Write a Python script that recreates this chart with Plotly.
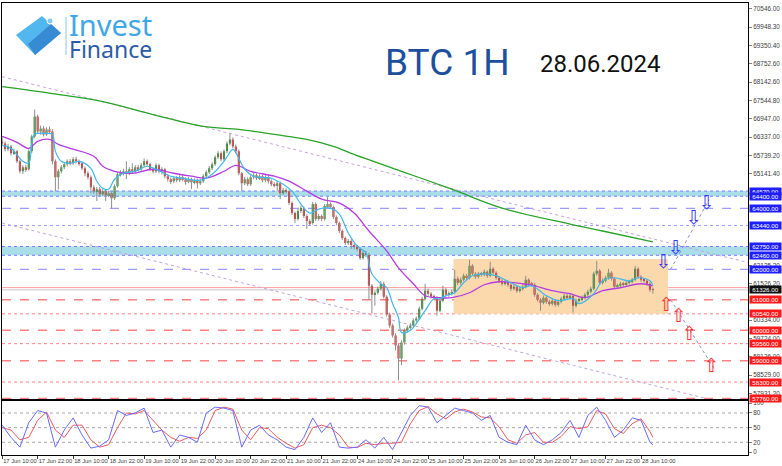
import plotly.graph_objects as go

W, H = 782, 466
ML, MR, MT, MB = 1, 34, 1, 11

# one bar per hour, weekend removed; bar 0 = 17 Jun 10:00
time_ticks = [0, 12, 24, 36, 48, 60, 72, 84, 96, 108, 120, 132, 144, 156, 168, 180, 192, 204, 216]
time_labels = ["17 Jun 10:00", "17 Jun 22:00", "18 Jun 10:00", "18 Jun 22:00", "19 Jun 10:00",
               "19 Jun 22:00", "20 Jun 10:00", "20 Jun 22:00", "21 Jun 10:00", "21 Jun 22:00",
               "24 Jun 10:00", "24 Jun 22:00", "25 Jun 10:00", "25 Jun 22:00", "26 Jun 10:00",
               "26 Jun 22:00", "27 Jun 10:00", "27 Jun 22:00", "28 Jun 10:00"]

opens = [66200, 66134, 65938, 66036, 65808, 65873, 65546, 65219, 65350, 65285,
         65873, 66363, 67017, 66527, 66625, 66429, 66592, 66527, 65546, 65023,
         65219, 65350, 65448, 65546, 65481, 65612, 65546, 65481, 65317, 65154,
         65023, 64697, 64566, 64631, 64468, 64566, 64435, 64500, 64337, 64729,
         65121, 65154, 65219, 65154, 65285, 65219, 65350, 65285, 65415, 65546,
         65448, 65285, 65219, 65415, 65219, 65285, 65056, 64958, 64893, 64991,
         64925, 65023, 64958, 64893, 64958, 64860, 64925, 64827, 64893, 65056,
         65187, 65317, 65448, 65677, 65808, 65612, 65873, 66134, 66265, 66036,
         65873, 65154, 64827, 64958, 64795, 65023, 65089, 64991, 65056, 64925,
         65023, 64893, 64795, 64762, 64827, 64500, 64599, 64566, 64174, 63847,
         63651, 63912, 64010, 63749, 63585, 63520, 64141, 63651, 63749, 63651,
         64076, 64141, 64043, 63716, 63520, 63259, 63030, 62866, 62932, 62801,
         62736, 62670, 62376, 62540, 62474, 61461, 61167, 61232, 61363, 61527,
         61102, 60514, 60154, 59827, 59500, 59076, 59598, 59991, 60089, 60154,
         60317, 60383, 60710, 61036, 61298, 61200, 61102, 61069, 60644, 60971,
         61330, 61167, 61200, 61265, 61690, 61559, 61657, 61788, 61723, 62115,
         61853, 61755, 61853, 61821, 61919, 61788, 62017, 61886, 61723, 61625,
         61527, 61592, 61494, 61363, 61429, 61298, 61363, 61429, 61657, 61527,
         61494, 61167, 61004, 60906, 61069, 60938, 60873, 60971, 60840, 60938,
         61036, 61134, 61069, 61134, 60808, 60971, 61004, 61069, 61167, 61265,
         61363, 61853, 61951, 61559, 61625, 61723, 61886, 61690, 61429, 61461,
         61527, 61494, 61559, 61592, 61657, 62017, 61755, 61657, 61625, 61527,
         61330]
highs = [66330, 66200, 66120, 66090, 65960, 65920, 65600, 65420, 65430, 65940,
         66420, 67245, 67080, 66720, 66700, 66660, 66690, 66600, 65610, 65290,
         65420, 65520, 65610, 65620, 65680, 65700, 65600, 65530, 65380, 65220,
         65080, 64760, 64700, 64700, 64640, 64630, 64580, 64560, 64790, 65190,
         65250, 65300, 65546, 65350, 65480, 65420, 65430, 65490, 65640, 65610,
         65500, 65340, 65480, 65470, 65350, 65330, 65120, 65020, 65060, 65060,
         65090, 65090, 65020, 65030, 65010, 64990, 64980, 64960, 65120, 65250,
         65390, 65510, 65740, 65880, 65870, 65940, 66200, 66461, 66330, 66100,
         65930, 65200, 65030, 65020, 65090, 65160, 65150, 65120, 65110, 65090,
         65080, 64950, 64860, 64900, 64880, 64670, 64660, 64620, 64230, 63900,
         63980, 64090, 64060, 63800, 63640, 64210, 64200, 63820, 63800, 64140,
         64370, 64200, 64090, 63770, 63570, 63310, 63080, 63000, 62990, 62860,
         62800, 62720, 62600, 62610, 62540, 61520, 61300, 61430, 61620, 61590,
         61150, 60580, 60220, 59900, 59560, 59670, 60060, 60160, 60230, 60390,
         60450, 60780, 61100, 61527, 61370, 61260, 61170, 61120, 61040, 61461,
         61390, 61280, 61340, 61980, 61760, 61730, 61860, 61850, 62310, 62170,
         61910, 61920, 61920, 61990, 61970, 62245, 62070, 61940, 61780, 61680,
         61660, 61650, 61550, 61500, 61480, 61430, 61500, 61788, 61710, 61590,
         61550, 61220, 61060, 61140, 61120, 61000, 61040, 61020, 61010, 61100,
         61200, 61190, 61210, 61190, 61040, 61080, 61140, 61230, 61330, 61430,
         61920, 62278, 62010, 61700, 61790, 62017, 61940, 61740, 61530, 61590,
         61580, 61630, 61660, 61720, 62115, 62070, 61810, 61720, 61680, 61580,
         61400]
lows = [66070, 65870, 65880, 65740, 65760, 65480, 65150, 65130, 65200, 65240,
        65820, 66300, 66460, 66420, 66360, 66380, 66450, 65450, 64560, 64630,
        65150, 65290, 65380, 65420, 65430, 65480, 65400, 65250, 65060, 64950,
        64500, 64480, 64240, 64400, 64400, 64240, 64370, 64010, 64280, 64680,
        65050, 65080, 64960, 65090, 65150, 65160, 65220, 65230, 65360, 65390,
        65220, 65150, 65160, 65150, 65110, 64990, 64880, 64800, 64830, 64860,
        64870, 64890, 64780, 64830, 64630, 64790, 64660, 64770, 64840, 65000,
        65130, 65260, 65400, 65620, 65550, 65560, 65810, 66070, 65970, 65800,
        65090, 64566, 64760, 64730, 64740, 64960, 64930, 64930, 64860, 64860,
        64820, 64730, 64690, 64566, 64304, 64440, 64490, 64110, 63780, 63520,
        63600, 63850, 63680, 63324, 63440, 63470, 63590, 63600, 63580, 63600,
        64010, 63980, 63650, 63450, 63190, 62960, 62800, 62800, 62670, 62660,
        62600, 62310, 62320, 62400, 61000, 60546, 60808, 61170, 61300, 61040,
        60450, 60080, 59760, 59337, 58357, 58850, 59530, 59930, 60020, 60090,
        60250, 60330, 60650, 60980, 61130, 61040, 60990, 60480, 60590, 60920,
        61100, 61100, 61140, 61210, 61490, 61500, 61600, 61650, 61670, 61790,
        61690, 61700, 61760, 61770, 61720, 61740, 61820, 61660, 61560, 61460,
        61470, 61430, 61290, 61310, 61230, 61240, 61300, 61380, 61460, 61430,
        61100, 60940, 60644, 60850, 60870, 60800, 60810, 60770, 60780, 60880,
        60980, 61000, 61010, 60579, 60750, 60910, 60950, 61010, 61110, 61210,
        61310, 61790, 61490, 61500, 61570, 61660, 61630, 61360, 61370, 61400,
        61430, 61440, 61500, 61540, 61610, 61690, 61590, 61560, 61460, 61260,
        61200]
closes = [66134, 65938, 66036, 65808, 65873, 65546, 65219, 65350, 65285, 65873,
          66363, 67017, 66527, 66625, 66429, 66592, 66527, 65546, 65023, 65219,
          65350, 65448, 65546, 65481, 65612, 65546, 65481, 65317, 65154, 65023,
          64697, 64566, 64631, 64468, 64566, 64435, 64500, 64337, 64729, 65121,
          65154, 65219, 65154, 65285, 65219, 65350, 65285, 65415, 65546, 65448,
          65285, 65219, 65415, 65219, 65285, 65056, 64958, 64893, 64991, 64925,
          65023, 64958, 64893, 64958, 64860, 64925, 64827, 64893, 65056, 65187,
          65317, 65448, 65677, 65808, 65612, 65873, 66134, 66265, 66036, 65873,
          65154, 64827, 64958, 64795, 65023, 65089, 64991, 65056, 64925, 65023,
          64893, 64795, 64762, 64827, 64500, 64599, 64566, 64174, 63847, 63651,
          63912, 64010, 63749, 63585, 63520, 64141, 63651, 63749, 63651, 64076,
          64141, 64043, 63716, 63520, 63259, 63030, 62866, 62932, 62801, 62736,
          62670, 62376, 62540, 62474, 61461, 61167, 61232, 61363, 61527, 61102,
          60514, 60154, 59827, 59500, 59076, 59598, 59991, 60089, 60154, 60317,
          60383, 60710, 61036, 61298, 61200, 61102, 61069, 60644, 60971, 61330,
          61167, 61200, 61265, 61690, 61559, 61657, 61788, 61723, 62115, 61853,
          61755, 61853, 61821, 61919, 61788, 62017, 61886, 61723, 61625, 61527,
          61592, 61494, 61363, 61429, 61298, 61363, 61429, 61657, 61527, 61494,
          61167, 61004, 60906, 61069, 60938, 60873, 60971, 60840, 60938, 61036,
          61134, 61069, 61134, 60808, 60971, 61004, 61069, 61167, 61265, 61363,
          61853, 61951, 61559, 61625, 61723, 61886, 61690, 61429, 61461, 61527,
          61494, 61559, 61592, 61657, 62017, 61755, 61657, 61625, 61527, 61330,
          61326]

# moving averages at sample bars
ma_slow_x = [0, 17, 34, 51, 68, 80, 92, 103, 112, 118, 135, 152, 169, 192, 203, 220]
ma_slow = [67997, 67768, 67507, 67082, 66690, 66592, 66428, 66265, 66036, 65808,
           65219, 64631, 64010, 63487, 63258, 62899]
ma_mid_x = [0, 5, 9, 12, 16, 19, 23, 31, 34, 38, 44, 51, 58, 64, 69, 75, 79, 84, 92, 97,
            103, 108, 114, 119, 124, 130, 134, 139, 143, 148, 152, 158, 163, 168, 176, 180,
            186, 192, 197, 203, 209, 216, 220]
ma_mid = [66363, 66170, 65970, 66200, 66265, 66100, 65971, 65710, 65383, 65219, 65154,
          65285, 65154, 65056, 64991, 65219, 65415, 65219, 65056, 64893, 64566, 64304,
          64174, 63847, 63259, 62605, 62050, 61527, 61134, 61069, 61069, 61232, 61494,
          61592, 61527, 61461, 61298, 61200, 61069, 61298, 61396, 61527, 61461]
ma_fast_x = [0, 3, 7, 9, 10, 11, 15, 17, 18, 20, 23, 26, 30, 32, 34, 36, 38, 41, 45, 49,
             52, 57, 61, 67, 71, 75, 78, 80, 82, 85, 91, 95, 98, 101, 104, 107, 111, 114,
             117, 120, 123, 125, 128, 130, 132, 134, 135, 138, 140, 143, 146, 148, 150,
             153, 156, 159, 163, 167, 172, 176, 179, 184, 188, 193, 195, 200, 203, 207,
             212, 215, 219, 220]
ma_fast = [66070, 65971, 65546, 65481, 66102, 66429, 66461, 66429, 65873, 65546, 65481,
           65546, 65317, 64893, 64664, 64631, 64958, 65154, 65219, 65383, 65285, 65056,
           64991, 64925, 65121, 65546, 65938, 65644, 65285, 65056, 64991, 64795, 64566,
           64141, 63847, 63978, 64010, 63814, 63193, 62768, 62540, 61853, 61527, 61396,
           60873, 60415, 59925, 59991, 60219, 60644, 61036, 61036, 61134, 61233, 61559,
           61788, 61853, 61788, 61559, 61396, 61461, 61134, 60971, 61036, 60873, 61200,
           61624, 61723, 61624, 61723, 61624, 61461]

# stochastic panel, read every third bar
stoch_x = list(range(0, 220, 3)) + [220]
stoch_k = [55, 30, 10, 60, 85, 80, 10, 45, 70, 35, 8, 12, 25, 85, 75, 80, 90, 40, 45, 10,
           35, 30, 20, 80, 92, 90, 85, 10, 45, 55, 35, 25, 10, 5, 30, 70, 40, 60, 10, 8,
           10, 25, 8, 30, 5, 40, 75, 95, 92, 60, 75, 90, 85, 80, 65, 75, 30, 20, 15, 55,
           25, 15, 25, 40, 65, 30, 75, 92, 65, 30, 45, 70, 65, 20, 15]
stoch_d = [50, 45, 25, 30, 65, 82, 45, 30, 55, 55, 25, 10, 15, 50, 80, 78, 85, 65, 45, 30,
           22, 30, 28, 45, 85, 92, 88, 45, 25, 50, 48, 30, 18, 8, 15, 50, 55, 50, 35, 10,
           9, 18, 15, 18, 18, 20, 58, 85, 93, 78, 68, 82, 88, 82, 72, 70, 52, 25, 18, 35,
           40, 20, 20, 32, 52, 48, 52, 85, 78, 48, 38, 58, 68, 42, 30]
stoch_levels = [80, 50, 20]

price_ticks = [70546.00, 69948.30, 69350.40, 68752.60, 68142.60, 67544.80, 66947.00,
               66337.00, 65739.20, 65141.40, 62125.20, 61526.20, 60334.00, 59724.00,
               59126.00, 58529.00, 57931.20]

blue_bands = [(64400, 64570), (62460, 62750)]
blue_lines = [(64000, "dash"), (63440, "dot"), (62000, "dash")]
red_lines = [(61000, "dash"), (60540, "dot"), (60000, "dash"), (59560, "dot"),
             (59000, "dash"), (58300, "dot"), (57760, "dash")]
last_price = 61326
ask_price = 61400

range_box_x = [152.6, 225.1]
range_box_y = [60546, 62343]
trend_upper_x, trend_upper_y = [0, 252.5], [68324, 62213]
trend_lower_x, trend_lower_y = [0, 239], [63520, 57736]
bull_path_x, bull_path_y = [226, 239], [62000, 64290]
bear_path_x, bear_path_y = [226, 241], [61000, 58700]
down_arrows_x = [223.5, 227.6, 233.7, 238.1]
down_arrows_y = [62213, 62670, 63651, 64141]
up_arrows_x = [224.5, 228.6, 232.3, 239.7]
up_arrows_y = [60775, 60415, 59827, 58782]

X_RANGE = [-0.05, 252.15]


def paper_x(px):
    return (px - ML) / (W - ML - MR)


def paper_y(py):
    return (H - MB - py) / (H - MT - MB)


idx = list(range(len(closes)))
wx, wy = [], []
for i in idx:
    wx += [i, i, None]
    wy += [lows[i], highs[i], None]
body_base = [min(o, c) for o, c in zip(opens, closes)]
body_h = [max(abs(c - o), 12) for o, c in zip(opens, closes)]
body_col = ["#138a13" if c >= o else "#e31a1a" for o, c in zip(opens, closes)]

fig = go.Figure()
fig.add_trace(go.Scatter(x=trend_upper_x, y=trend_upper_y, mode="lines",
                         line=dict(color="#c7a2dc", width=1, dash="dot")))
fig.add_trace(go.Scatter(x=trend_lower_x, y=trend_lower_y, mode="lines",
                         line=dict(color="#c7a2dc", width=1, dash="dot")))
fig.add_trace(go.Scatter(x=wx, y=wy, mode="lines", line=dict(color="#8e8e8e", width=1)))
fig.add_trace(go.Bar(x=idx, y=body_h, base=body_base, width=0.7,
                     marker=dict(color=body_col, line=dict(width=0))))
fig.add_trace(go.Scatter(x=ma_slow_x, y=ma_slow, mode="lines",
                         line=dict(color="#27a327", width=1.3, shape="spline")))
fig.add_trace(go.Scatter(x=ma_mid_x, y=ma_mid, mode="lines",
                         line=dict(color="#b63ce0", width=1.3, shape="spline")))
fig.add_trace(go.Scatter(x=ma_fast_x, y=ma_fast, mode="lines",
                         line=dict(color="#3fb8ee", width=1.2, shape="spline")))
fig.add_trace(go.Scatter(x=bull_path_x, y=bull_path_y, mode="lines",
                         line=dict(color="#8c8cd8", width=1, dash="dot")))
fig.add_trace(go.Scatter(x=bear_path_x, y=bear_path_y, mode="lines",
                         line=dict(color="#8c8cd8", width=1, dash="dot")))
fig.add_trace(go.Scatter(x=down_arrows_x, y=down_arrows_y, mode="text", text=["⇩"] * 4,
                         textfont=dict(size=19, color="#3a3aff", family="DejaVu Sans")))
fig.add_trace(go.Scatter(x=up_arrows_x, y=up_arrows_y, mode="text", text=["⇧"] * 4,
                         textfont=dict(size=19, color="#ff3030", family="DejaVu Sans")))

fig.add_trace(go.Scatter(x=stoch_x, y=stoch_d, mode="lines", xaxis="x2", yaxis="y2",
                         line=dict(color="#f05a5a", width=1)))
fig.add_trace(go.Scatter(x=stoch_x, y=stoch_k, mode="lines", xaxis="x2", yaxis="y2",
                         line=dict(color="#6a6aff", width=1)))

shapes = []
for lo, hi in blue_bands:
    shapes.append(dict(type="rect", xref="paper", yref="y", x0=0, x1=1, y0=lo, y1=hi,
                       fillcolor="#a9dde8", line=dict(width=0), layer="below"))
    for v in (lo, hi):
        shapes.append(dict(type="line", xref="paper", yref="y", x0=0, x1=1, y0=v, y1=v,
                           line=dict(color="#7a7aff", width=1, dash="dot"), layer="below"))
for v, d in blue_lines:
    shapes.append(dict(type="line", xref="paper", yref="y", x0=0, x1=1, y0=v, y1=v,
                       line=dict(color="#9c9cff", width=1.4 if d == "dash" else 1, dash=d),
                       layer="below"))
for v, d in red_lines:
    shapes.append(dict(type="line", xref="paper", yref="y", x0=0, x1=1, y0=v, y1=v,
                       line=dict(color="#ff8080", width=1.4 if d == "dash" else 1, dash=d),
                       layer="below"))
shapes.append(dict(type="rect", xref="x", yref="y", x0=range_box_x[0], x1=range_box_x[1],
                   y0=range_box_y[0], y1=range_box_y[1], fillcolor="#fcd8ad",
                   line=dict(width=0), layer="below"))
shapes.append(dict(type="line", xref="paper", yref="y", x0=0, x1=1, y0=ask_price, y1=ask_price,
                   line=dict(color="#ff9c9c", width=1), layer="below"))
shapes.append(dict(type="line", xref="paper", yref="y", x0=0, x1=1, y0=last_price, y1=last_price,
                   line=dict(color="#c8c8c8", width=1), layer="below"))
for v in stoch_levels:
    shapes.append(dict(type="line", xref="paper", yref="y2", x0=0, x1=1, y0=v, y1=v,
                       line=dict(color="#a8a8a8", width=1, dash="dot"), layer="below"))

# logo
logo = dict(xref="paper", yref="paper", xsizemode="pixel", ysizemode="pixel",
            xanchor=0, yanchor=1, layer="above")
shapes.append(dict(type="path", path="M 14,-32 L 40,-13 L 59,-30 L 33,-52 Z",
                   fillcolor="#52b7ef", line=dict(width=0), **logo))
shapes.append(dict(type="path", path="M 26,-41 L 49,-21 L 59,-30 L 33,-52 Z",
                   fillcolor="#2f7cca", opacity=0.75, line=dict(width=0), **logo))
shapes.append(dict(type="circle", x0=45, x1=51, y0=-21, y1=-15,
                   fillcolor="#7fcaf2", line=dict(color="white", width=1), **logo))
shapes.append(dict(type="line", x0=64, x1=64, y0=-14, y1=-52,
                   line=dict(color="#8cc4ea", width=1), **logo))

annotations = [
    dict(text="Invest", x=paper_x(66), y=paper_y(23), xref="paper", yref="paper",
         xanchor="left", yanchor="middle", showarrow=False,
         font=dict(family="Noto Sans", size=29, color="#3fa7e6")),
    dict(text="Finance", x=paper_x(66), y=paper_y(47), xref="paper", yref="paper",
         xanchor="left", yanchor="middle", showarrow=False,
         font=dict(family="Noto Sans", size=23, color="#2b5ca8")),
    dict(text="BTC 1H", x=paper_x(447), y=paper_y(61), xref="paper", yref="paper",
         xanchor="center", yanchor="middle", showarrow=False,
         font=dict(family="Roboto", size=37, color="#1c4f9e")),
    dict(text="28.06.2024", x=paper_x(600), y=paper_y(62), xref="paper", yref="paper",
         xanchor="center", yanchor="middle", showarrow=False,
         font=dict(family="Roboto", size=24, color="#111111")),
]


def price_tag(v, bg):
    return dict(text=f"{v:.2f}", x=1, y=v, xref="paper", yref="y", xanchor="left",
                yanchor="middle", xshift=1, showarrow=False, bgcolor=bg, borderpad=0,
                width=31, height=7,
                font=dict(family="Liberation Sans, Arial", size=6.2, color="white"))


for lo, hi in blue_bands:
    annotations += [price_tag(hi, "#1e1eff"), price_tag(lo, "#1e1eff")]
for v, d in blue_lines:
    annotations.append(price_tag(v, "#1e1eff"))
for v, d in red_lines:
    annotations.append(price_tag(v, "#ff1a1a"))
annotations.append(price_tag(last_price, "#111111"))

axis_font = dict(family="Liberation Sans, Arial", size=6.4, color="#404040")
fig.update_layout(
    width=W, height=H, margin=dict(l=ML, r=MR, t=MT, b=MB),
    paper_bgcolor="white", plot_bgcolor="white", showlegend=False,
    barmode="overlay", hovermode=False,
    shapes=shapes, annotations=annotations,
    xaxis=dict(domain=[0, 1], range=X_RANGE, anchor="y", showticklabels=False,
               ticks="", showgrid=False, zeroline=False, showline=True, mirror=True,
               linecolor="#000000", linewidth=1),
    xaxis2=dict(domain=[0, 1], range=X_RANGE, anchor="y2", tickvals=time_ticks,
                ticktext=time_labels, tickangle=0, ticks="outside", ticklen=3,
                tickcolor="#404040", ticklabelposition="outside right",
                tickfont=dict(family="Liberation Sans, Arial", size=5.8, color="#404040"),
                showgrid=False, zeroline=False, showline=True, mirror=True,
                linecolor="#000000", linewidth=1),
    yaxis=dict(domain=[paper_y(399), 1], range=[57735.7, 70742.3], side="right",
               tickvals=price_ticks, ticktext=[f"{v:.2f}" for v in price_ticks],
               ticks="outside", ticklen=3, tickcolor="#808080", tickfont=axis_font,
               showgrid=False, zeroline=False, showline=True, mirror=True,
               linecolor="#000000", linewidth=1),
    yaxis2=dict(domain=[0, paper_y(401)], range=[-6.1, 104.1], side="right",
                tickvals=[0, 20, 50, 80, 100], ticktext=["0", "20", "50", "80", "100"],
                ticks="outside", ticklen=3, tickcolor="#808080", tickfont=axis_font,
                showgrid=False, zeroline=False, showline=True, mirror=True,
                linecolor="#000000", linewidth=1),
)

# the page's default body margin would push the fixed-size figure off the window
fig.write_html("out.html", config={"displayModeBar": False},
               post_script="document.body.style.margin='0px';")
